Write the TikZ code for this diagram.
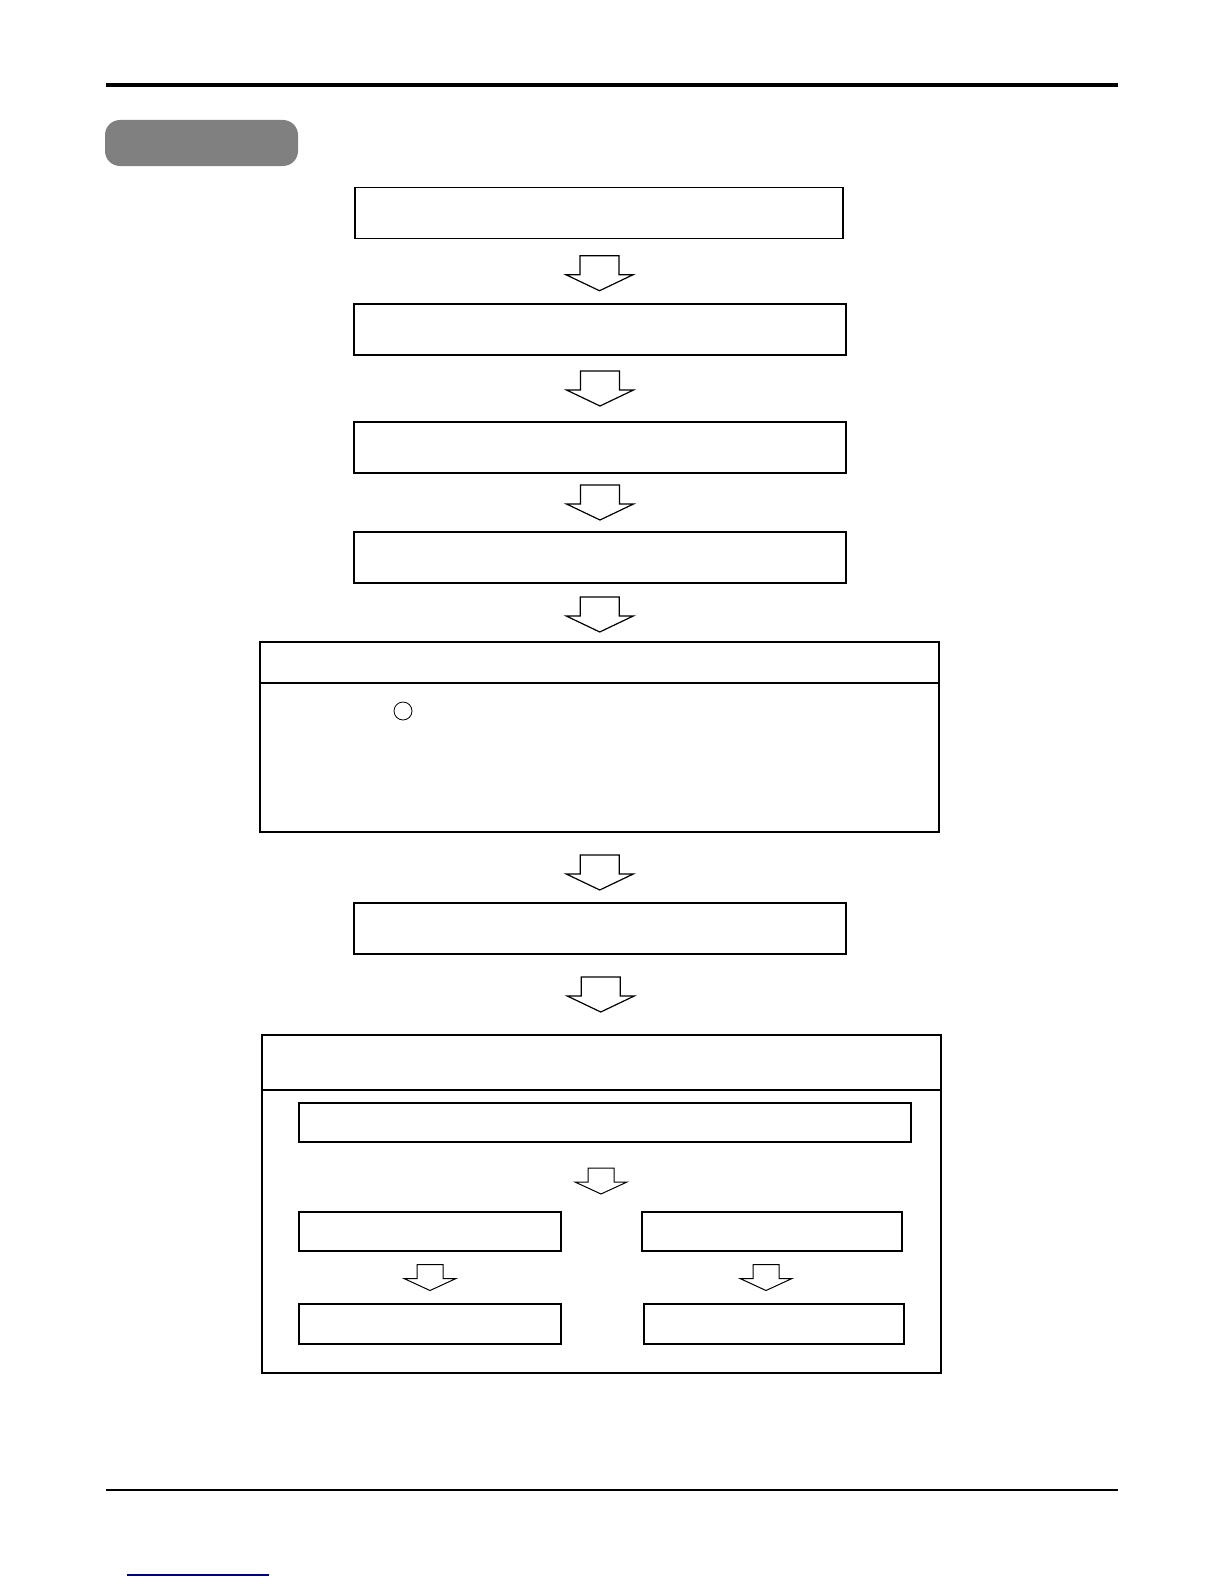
\documentclass[tikz,border=0pt]{standalone}
\usepackage{tikz}
\usetikzlibrary{calc}
\definecolor{tabgray}{RGB}{128,128,128}
\definecolor{linkblue}{RGB}{0,0,128}

\begin{document}
\begin{tikzpicture}[
x = 0.5pt, y = -0.5pt,
flowbox/.style = {draw, line width=0.55pt, inner sep=0pt, minimum height=25.5pt},
smallbox/.style = {draw, line width=0.55pt, inner sep=0pt, minimum height=19.5pt},
bigarrow/.pic = {\draw[line width=0.6pt, line join=miter] (-19.5,-17.5) -- (19.5,-17.5) -- (19.5,1.5) -- (33.5,1.5) -- (0,17.5) -- (-33.5,1.5) -- (-19.5,1.5) -- cycle;},
smallarrow/.pic = {\draw[line width=0.5pt, line join=miter] (-13,-13) -- (13,-13) -- (13,1) -- (26,1) -- (0,13) -- (-26,1) -- (-13,1) -- cycle;}
]
\useasboundingbox (0,0) rectangle (1224,1584);

% page rules and tab
\draw[line width=2.2pt] (106,85) -- (1118,85);
\node[fill=tabgray, rounded corners=7.5pt, inner sep=0pt, minimum width=96.5pt, minimum height=23pt] (tab) at (201.5,143) {};

% main chain
\node[flowbox, minimum width=244pt] (b1) at (599,213) {};
\node[flowbox, minimum width=246pt] (b2) at (600,329.5) {};
\node[flowbox, minimum width=246pt] (b3) at (600,447.5) {};
\node[flowbox, minimum width=246pt] (b4) at (600,557.5) {};
\node[draw, line width=0.55pt, inner sep=0pt, minimum width=339.5pt, minimum height=95pt] (b5) at (599.5,737) {};
\draw[line width=0.55pt] (b5.west |- 0,683) -- (b5.east |- 0,683);
\node[circle, draw, line width=0.4pt, inner sep=0pt, minimum size=9pt] (mark) at (403,711) {};
\node[flowbox, minimum width=246pt] (b6) at (600,928.5) {};

% last group
\node[draw, line width=0.55pt, inner sep=0pt, minimum width=339.5pt, minimum height=169pt] (b7) at (601.5,1204) {};
\draw[line width=0.55pt] (b7.west |- 0,1090) -- (b7.east |- 0,1090);
\node[smallbox, minimum width=306pt] (c1) at (605,1122.5) {};
\node[smallbox, minimum width=131pt] (c2) at (430,1231.5) {};
\node[smallbox, minimum width=130pt] (c3) at (772,1231.5) {};
\node[smallbox, minimum width=131pt, minimum height=20pt] (c4) at (430,1324) {};
\node[smallbox, minimum width=130pt, minimum height=20pt] (c5) at (774,1324) {};

% arrows
\pic at ($(b1.south)!0.5!(b2.north)$) [yshift=-1pt] {bigarrow};
\pic at ($(b2.south)!0.5!(b3.north)$) {bigarrow};
\pic at ($(b3.south)!0.5!(b4.north)$) {bigarrow};
\pic at ($(b4.south)!0.5!(b5.north)$) [yshift=-1pt] {bigarrow};
\pic at ($(b5.south)!0.5!(b6.north)$) [yshift=-2.5pt] {bigarrow};
\pic at ($(b6.south)!0.5!(b7.north)$) {bigarrow};
\pic at ($(c1.south)!0.5!(c2.north -| c1.north)$) [xshift=-2pt, yshift=-2pt] {smallarrow};
\pic at ($(c2.south)!0.5!(c4.north)$) {smallarrow};
\pic at ($(c3.south)!0.5!(c5.north)$) [xshift=-3.5pt] {smallarrow};

% footer
\draw[line width=1.1pt] (106,1490) -- (1118,1490);
\draw[linkblue, line width=0.6pt] (127,1575) -- (269,1575);
\end{tikzpicture}
\end{document}
